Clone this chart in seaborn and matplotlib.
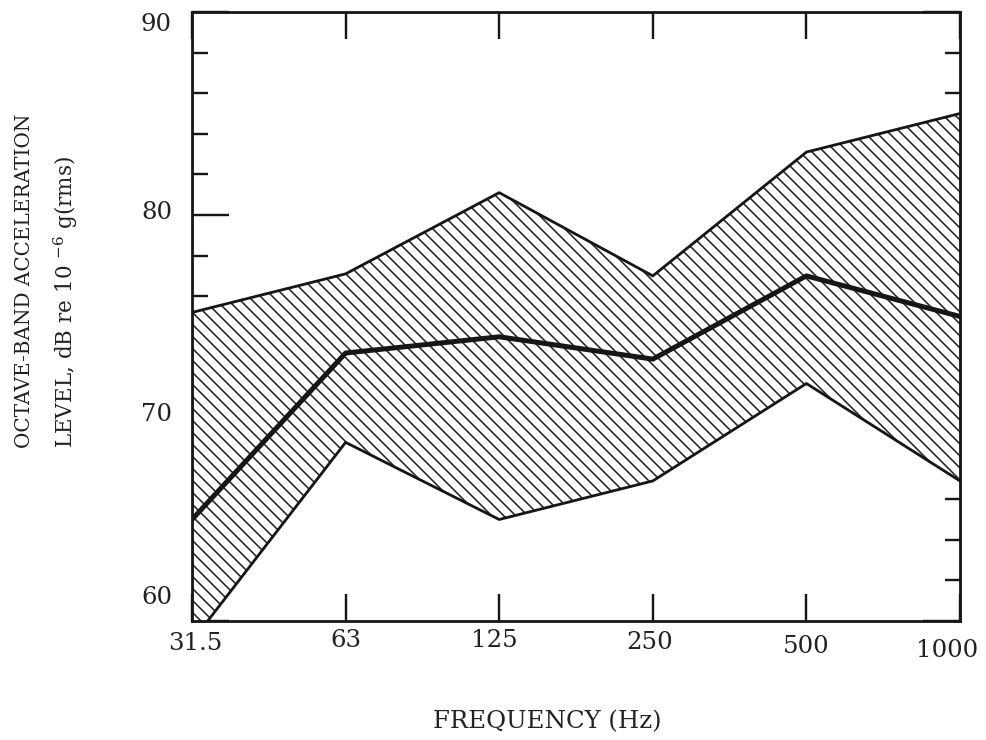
import numpy as np
import pandas as pd
import matplotlib
matplotlib.use("Agg")
import matplotlib.pyplot as plt
import matplotlib.transforms as mtransforms
import seaborn as sns

# ---- data ----
freq_labels = ["31.5", "63", "125", "250", "500", "1000"]
upper = [75.2, 77.1, 81.1, 77.0, 83.1, 85.0]
middle = [65.0, 73.2, 74.0, 72.9, 77.0, 75.0]
lower = [59.0, 68.8, 65.0, 66.9, 71.7, 66.9]
y_tick_labels = ["60", "70", "80", "90"]
xlabel_text = "FREQUENCY (Hz)"
ylabel_line1 = "OCTAVE-BAND ACCELERATION"
ylabel_line2 = "LEVEL, dB re 10 $^{-6}$ g(rms)"

sns.set_style("white")
plt.rcParams["font.family"] = ["DejaVu Serif", "DejaVu Sans"]
plt.rcParams["mathtext.default"] = "regular"
plt.rcParams["hatch.color"] = "#262626"
plt.rcParams["hatch.linewidth"] = 1.6

DPI = 72
fig = plt.figure(figsize=(986 / DPI, 740 / DPI), dpi=DPI)
ax = fig.add_axes([192 / 986, 1 - 621 / 740, 768 / 986, 609 / 740])

pos = np.arange(len(freq_labels))
df = pd.DataFrame({"pos": pos, "upper": upper, "middle": middle, "lower": lower})

ax.fill_between(df["pos"], df["lower"], df["upper"], facecolor="white",
                edgecolor="#262626", hatch="\\\\", linewidth=0, zorder=1)
sns.lineplot(data=df, x="pos", y="upper", ax=ax, color="#161616", linewidth=2.8, zorder=3)
sns.lineplot(data=df, x="pos", y="lower", ax=ax, color="#161616", linewidth=2.8, zorder=3)
sns.lineplot(data=df, x="pos", y="middle", ax=ax, color="#161616", linewidth=5.0, zorder=4)

ax.set_xlim(0, len(freq_labels) - 1)
ax.set_ylim(60, 90)
ax.set_xlabel("")
ax.set_ylabel("")

for sp in ax.spines.values():
    sp.set_visible(True)
    sp.set_linewidth(2.8)
    sp.set_color("#161616")
    sp.set_zorder(5)

ax.set_xticks(pos)
ax.set_xticklabels(freq_labels)
y_major = [float(v) for v in y_tick_labels]
ax.set_yticks(y_major)
ax.set_yticklabels(y_tick_labels)
ax.set_yticks(np.arange(60, 91, 2), minor=True)

ax.tick_params(axis="x", which="major", direction="in", top=True, bottom=True,
               length=27, width=2.4, color="#161616", labelsize=24.4, pad=9,
               labelcolor="#222222")
ax.tick_params(axis="y", which="major", direction="in", left=True, right=True,
               length=37, width=2.4, color="#161616", labelsize=24.4, pad=20,
               labelcolor="#222222")
ax.tick_params(axis="y", which="minor", direction="in", left=True, right=True,
               length=15.5, width=2.4, color="#161616")

# individual typed-label offsets (pixels)
y_off = {"90": -10, "80": 5, "70": 6, "60": 26}
for lab in ax.get_yticklabels():
    dy = y_off.get(lab.get_text(), 0)
    lab.set_transform(lab.get_transform() +
                      mtransforms.ScaledTranslation(0, dy / DPI, fig.dpi_scale_trans))
x_off = {"31.5": (3, -2), "63": (0, 1), "125": (-5, 1), "250": (-3, -1),
         "500": (0, -5), "1000": (-13, -9)}
for lab in ax.get_xticklabels():
    dx, dy = x_off.get(lab.get_text(), (0, 0))
    lab.set_transform(lab.get_transform() +
                      mtransforms.ScaledTranslation(dx / DPI, dy / DPI, fig.dpi_scale_trans))

fig.text(547 / 986, 1 - 722 / 740, xlabel_text, ha="center", va="center",
         fontsize=24.4, color="#222222")
fig.text(25 / 986, 1 - 448 / 740, ylabel_line1, rotation=90, ha="center", va="bottom",
         fontsize=20, color="#222222")
fig.text(66 / 986, 1 - 448 / 740, ylabel_line2, rotation=90, ha="center", va="bottom",
         fontsize=21.5, color="#222222")

fig.savefig("out.png", dpi=DPI, facecolor="white")
